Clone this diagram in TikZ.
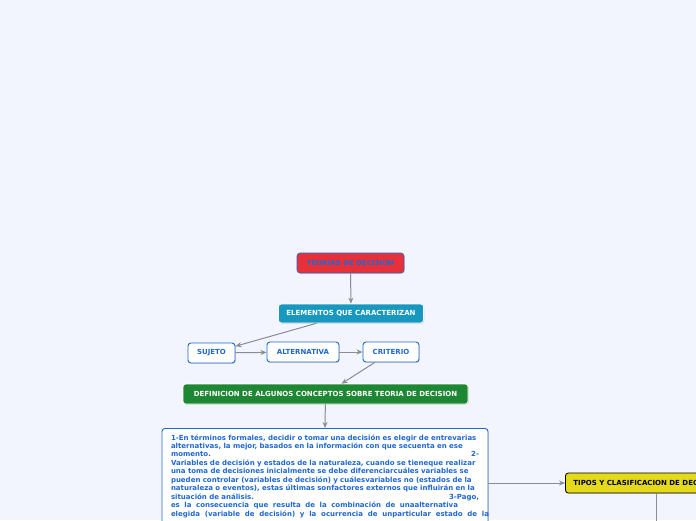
\documentclass[tikz,border=0pt]{standalone}
\usepackage{fontspec}
\setmainfont{DejaVu Sans}
\usetikzlibrary{arrows.meta,shadows}
\definecolor{fondo}{HTML}{F2F5FD}
\definecolor{azul}{HTML}{1F68CF}
\definecolor{rojo}{HTML}{E8303B}
\definecolor{turquesa}{HTML}{1898BE}
\definecolor{verde}{HTML}{1E8734}
\definecolor{amarillo}{HTML}{E4D91B}
\definecolor{gris}{HTML}{8A8C90}

\begin{document}
\begin{tikzpicture}[x=1pt,y=-1pt,
  every node/.style={rounded corners=3pt,inner sep=0pt,minimum height=20pt,
    font=\bfseries\fontsize{7}{8.45}\selectfont,
    drop shadow={shadow xshift=0.8pt,shadow yshift=-0.8pt,opacity=0.25}},
  caja/.style={draw=azul,fill=white,text=azul,line width=0.9pt},
  flecha/.style={draw=gris,line width=1pt,-{Stealth[length=6pt,width=5pt]}}]
  \fill[fondo] (0,0) rectangle (696,520);
  \clip (0,0) rectangle (696,520);
  \node [fill=rojo,draw=azul,text=azul,line width=0.6pt,minimum width=107pt](teorias) at (350.5,263) {TEORIAS DE DECISION};
    \node [fill=turquesa,draw=white,text=white,line width=0.6pt,minimum width=145pt,minimum height=19pt](elementos) at (351,313.5) {ELEMENTOS QUE CARACTERIZAN};
    \node [caja,minimum width=47pt](sujeto) at (211.5,353) {SUJETO};
    \node [caja,minimum width=72pt](alternativa) at (303,352) {ALTERNATIVA};
    \node [caja,minimum width=56pt](criterio) at (391,352) {CRITERIO};
    \node [fill=verde,draw=white,text=white,line width=0.6pt,minimum width=285pt](definicion) at (325.5,394) {DEFINICION DE ALGUNOS CONCEPTOS SOBRE TEORIA DE DECISION};
    \node [caja,anchor=north,text width=308pt,align=left,inner xsep=9pt,inner ysep=6pt](texto) at (325,428) {1-En términos formales, decidir o tomar una decisión es elegir de entrevarias\\
      alternativas, la mejor, basados en la información con que secuenta en ese\\
      momento.\hfill 2-\hspace*{10pt}\\
      Variables de decisión y estados de la naturaleza, cuando se tieneque realizar\\
      una toma de decisiones inicialmente se debe diferenciarcuáles variables se\\
      pueden controlar (variables de decisión) y cuálesvariables no (estados de la\\
      naturaleza o eventos), estas últimas sonfactores externos que influirán en la\\
      situación de análisis.\hfill 3-Pago,\hspace*{3pt}\\
      \makebox[287pt][s]{\spaceskip=0pt\relax es la consecuencia que resulta de la combinación de unaalternativa}\\
      \makebox[318pt][s]{\spaceskip=0pt\relax elegida (variable de decisión) y la ocurrencia de unparticular estado de la}\\
      \mbox{}\\ \mbox{}\\ \mbox{}};
    \node [fill=amarillo,draw=black,text=black,line width=0.8pt,anchor=west,minimum width=170pt,inner xsep=8pt](tipos) at (565,483) {TIPOS Y CLASIFICACION DE DECISIONES};
    \coordinate (abajo) at (656,535);
    \draw[flecha] (teorias) -- (elementos);
    \draw[flecha] (elementos) -- (sujeto);
    \draw[flecha] (sujeto) -- (alternativa);
    \draw[flecha] (alternativa) -- (criterio);
    \draw[flecha] (criterio) -- (definicion);
    \draw[flecha] (definicion) -- (texto.north);
    \draw[flecha] (texto.east |- tipos) -- (tipos.west);
    \draw[draw=gris,line width=1pt] (tipos.south -| abajo) -- (abajo);
\end{tikzpicture}
\end{document}
